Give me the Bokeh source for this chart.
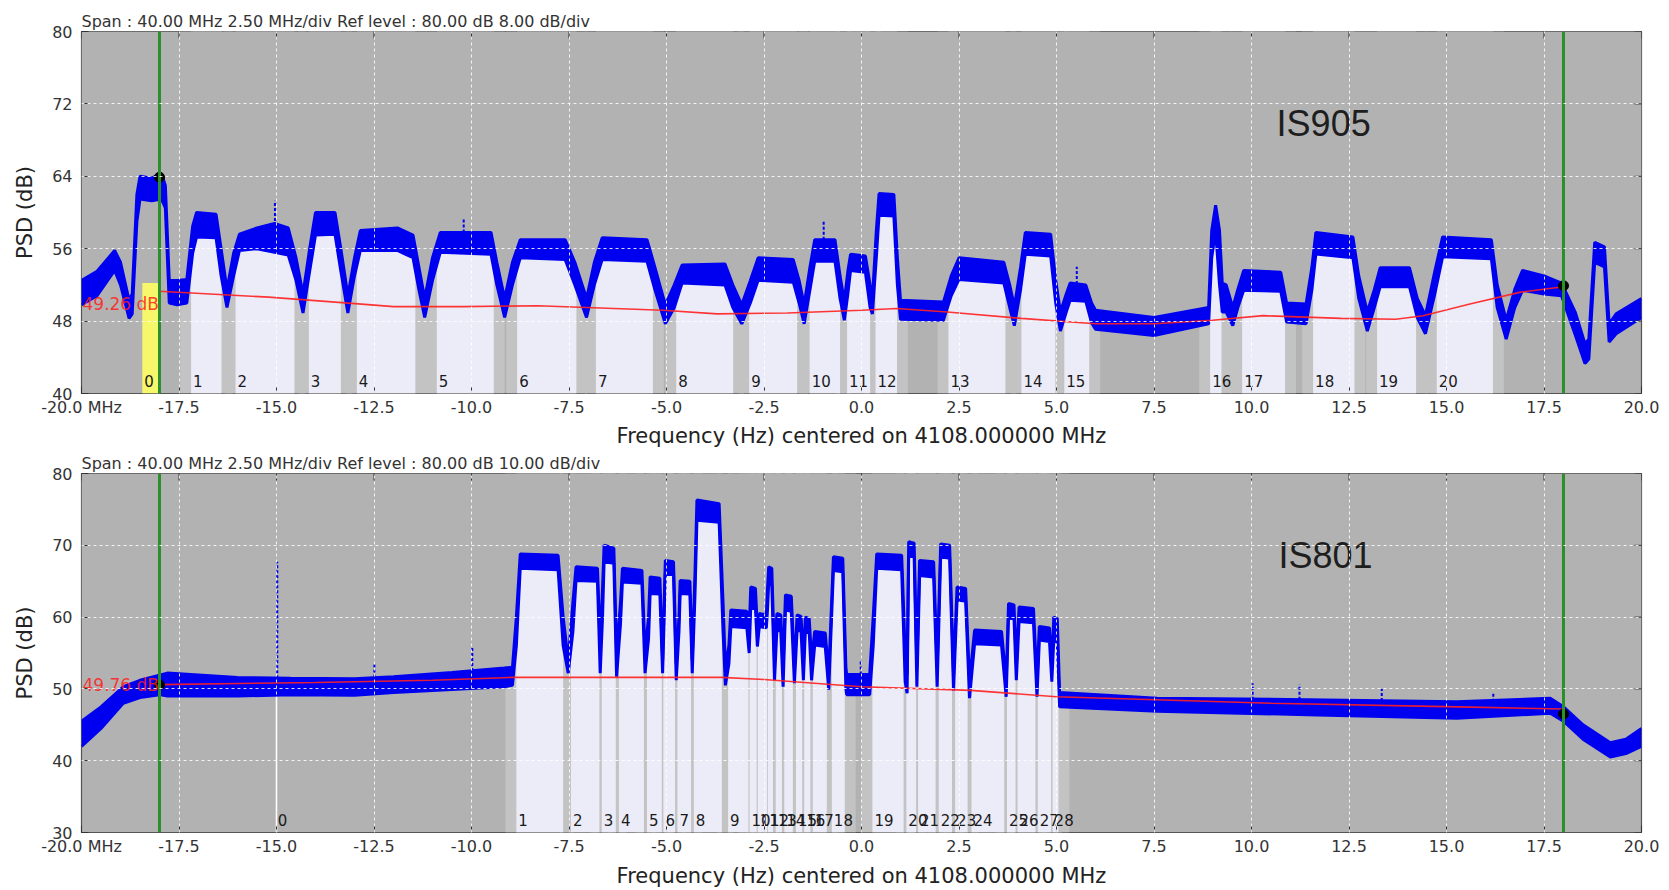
import math
from bokeh.plotting import figure
from bokeh.models import Range1d, FixedTicker, Span
from bokeh.layouts import column
from bokeh.embed import file_html
from bokeh.resources import INLINE
from bokeh.core.properties import value

# ---------------- shared axis data ----------------
X_TICKS = [-20.0, -17.5, -15.0, -12.5, -10.0, -7.5, -5.0, -2.5, 0.0, 2.5, 5.0, 7.5, 10.0, 12.5, 15.0, 17.5, 20.0]
X_LABELS = ["-20.0 MHz", "-17.5", "-15.0", "-12.5", "-10.0", "-7.5", "-5.0", "-2.5", "0.0", "2.5",
            "5.0", "7.5", "10.0", "12.5", "15.0", "17.5", "20.0"]
X_TITLE = "Frequency (Hz) centered on 4108.000000 MHz"
Y_TITLE = "PSD (dB)"

# ---------------- top panel (IS905) ----------------
TOP_TITLE = "Span : 40.00 MHz 2.50 MHz/div Ref level : 80.00 dB 8.00 dB/div"
TOP_Y_TICKS = [40, 48, 56, 64, 72, 80]
TOP_FREQ = [-20.0, -19.6, -19.15, -19.0, -18.78, -18.70, -18.58, -18.50, -18.20, -17.95, -17.85, -17.75,
            -17.55, -17.30, -17.15, -17.05, -16.55, -16.42, -16.27, -16.10, -15.95, -15.50, -15.05, -14.70,
            -14.50, -14.32, -14.15, -14.00, -13.50, -13.35, -13.17, -13.00, -12.85, -11.90, -11.50, -11.35,
            -11.20, -11.00, -10.80, -9.50, -9.35, -9.15, -8.95, -8.75, -7.60, -7.35, -7.05, -6.85, -6.65,
            -5.50, -5.30, -5.03, -4.80, -4.60, -3.50, -3.30, -3.07, -2.85, -2.65, -1.75, -1.60, -1.47,
            -1.32, -1.20, -0.68, -0.55, -0.44, -0.35, -0.28, 0.10, 0.22, 0.28, 0.38, 0.45, 0.83, 0.92,
            1.00, 2.10, 2.30, 2.50, 3.65, 3.80, 3.92, 4.08, 4.20, 4.85, 4.98, 5.10, 5.25, 5.35, 5.75,
            5.90, 6.00, 7.50, 8.90, 8.98, 9.08, 9.18, 9.25, 9.35, 9.52, 9.65, 9.80, 10.75, 10.90, 11.40,
            11.55, 11.65, 12.60, 12.75, 12.97, 13.15, 13.30, 14.05, 14.25, 14.46, 14.70, 14.90, 16.15,
            16.30, 16.53, 16.75, 16.95, 17.50, 17.95, 18.30, 18.55, 18.65, 18.80, 19.05, 19.17, 19.35, 20.00]
TOP_UPPER = [52.5, 53.5, 55.8, 54.5, 50.3, 51.0, 62.0, 64.0, 63.8, 64.3, 63.0, 52.5,
             52.5, 52.6, 58.5, 60.0, 59.8, 56.0, 51.5, 55.5, 57.6, 58.3, 58.8, 58.3,
             55.0, 51.0, 56.0, 60.0, 60.0, 56.0, 50.8, 55.0, 58.0, 58.3, 57.5, 54.0,
             50.5, 55.0, 57.8, 57.8, 54.5, 50.5, 54.5, 57.0, 57.0, 54.5, 50.5, 54.5, 57.2,
             57.0, 54.0, 49.8, 52.0, 54.2, 54.3, 52.0, 49.8, 52.5, 55.0, 54.8, 52.5, 49.8,
             54.0, 57.0, 57.0, 53.0, 50.2, 53.5, 55.4, 55.2, 52.0, 50.5, 58.0, 62.1, 62.0, 55.0,
             50.3, 50.1, 53.0, 55.0, 54.5, 52.0, 49.6, 54.0, 57.8, 57.6, 52.5, 49.0, 51.0, 52.2, 52.0,
             50.0, 49.2, 48.4, 49.5, 58.0, 60.8, 58.0, 52.2, 52.0, 49.5, 51.5, 53.6, 53.4, 50.0, 49.9,
             54.0, 57.8, 57.3, 53.0, 49.0, 51.5, 53.9, 53.9, 50.5, 48.6, 53.5, 57.3, 57.0,
             52.0, 48.1, 51.5, 53.6, 53.0, 52.2, 49.0, 45.5, 46.0, 56.7, 56.2, 47.7, 48.8, 50.5]
TOP_LOWER = [49.8, 50.8, 53.6, 52.0, 48.3, 48.8, 59.0, 61.5, 61.3, 61.5, 60.5, 50.0,
             49.8, 50.0, 55.5, 57.3, 57.2, 53.0, 49.5, 53.0, 55.8, 56.0, 55.6, 55.3,
             52.5, 48.9, 53.5, 57.5, 57.6, 53.5, 48.9, 53.0, 55.8, 55.8, 55.0, 51.5,
             48.4, 52.5, 55.6, 55.4, 52.0, 48.4, 52.0, 55.0, 54.8, 52.0, 48.4, 52.0, 54.8,
             54.6, 51.5, 47.7, 49.5, 52.2, 52.0, 49.5, 47.7, 50.0, 52.5, 52.3, 50.0, 47.7,
             51.5, 54.6, 54.6, 50.5, 48.1, 51.0, 53.6, 53.4, 49.5, 48.8, 55.0, 59.7, 59.6, 52.0,
             48.2, 48.1, 50.8, 52.6, 52.2, 49.5, 47.5, 51.5, 55.4, 55.2, 50.0, 46.9, 49.0, 50.3, 50.2,
             47.8, 47.1, 46.4, 47.7, 55.0, 58.0, 52.0, 49.0, 49.0, 47.5, 49.5, 51.4, 51.3, 47.9, 47.7,
             51.5, 55.4, 55.0, 50.5, 46.9, 49.5, 51.8, 51.8, 48.4, 46.6, 51.0, 55.1, 54.9,
             49.5, 46.0, 49.5, 51.4, 51.0, 50.8, 46.5, 43.3, 43.8, 54.5, 54.0, 45.7, 46.6, 48.4]
TOP_FLOOR_FREQ = [-18.0, -15.2, -12.9, -12.0, -10.2, -8.3, -5.1, -3.7, -1.9, 0.0, 0.9, 2.2,
                  4.1, 6.0, 7.5, 9.0, 10.3, 12.3, 13.7, 14.4, 15.6, 16.9, 18.0]
TOP_FLOOR_DB = [51.3, 50.65, 49.9, 49.6, 49.6, 49.7, 49.2, 48.8, 48.9, 49.2, 49.4, 49.0,
                48.3, 47.7, 47.7, 48.1, 48.6, 48.3, 48.2, 48.6, 49.9, 51.2, 51.8]
TOP_CH_LABELS = ["0", "1", "2", "3", "4", "5", "6", "7", "8", "9", "10", "11", "12", "13", "14",
                 "15", "16", "17", "18", "19", "20"]
TOP_CH_START = [-18.44, -17.19, -16.05, -14.17, -12.94, -10.89, -8.83, -6.81, -4.75, -2.88, -1.33,
                -0.37, 0.36, 2.23, 4.10, 5.20, 8.94, 9.76, 11.58, 13.22, 14.75]
TOP_CH_END = [-18.01, -16.41, -14.54, -13.35, -11.44, -9.43, -7.31, -5.35, -3.29, -1.65, -0.55,
              0.22, 0.91, 3.69, 4.97, 5.84, 9.23, 10.86, 12.64, 14.22, 16.19]
TOP_CH0_LEVEL = 52.2
TOP_SPIKE_FREQ = [-15.04, -10.2, -0.97, 5.52]
TOP_SPIKE_BASE = [58.5, 57.8, 57.0, 52.1]
TOP_SPIKE_PEAK = [61.3, 59.3, 59.1, 54.0]
TOP_MARK_FREQ = [-18.0, 18.0]
TOP_MARK_DB = [63.9, 51.9]
TOP_LEVEL_TEXT = "49.26 dB"
TOP_LEVEL_DB = 49.9
TOP_NAME = "IS905"
TOP_NAME_FREQ = 11.85
TOP_NAME_DB = 69.8

# ---------------- bottom panel (IS801) ----------------
BOT_TITLE = "Span : 40.00 MHz 2.50 MHz/div Ref level : 80.00 dB 10.00 dB/div"
BOT_Y_TICKS = [30, 40, 50, 60, 70, 80]
BOT_FREQ = [-20.0, -19.5, -18.93, -18.5, -18.0, -17.8, -16.0, -14.64, -13.0, -12.0, -10.5, -9.16,
            -8.95, -8.85, -8.75, -7.78, -7.65, -7.52, -7.40, -7.32, -6.77, -6.70, -6.64, -6.60,
            -6.35, -6.28, -6.18, -6.13, -5.63, -5.55, -5.46, -5.42, -5.17, -5.10, -5.06, -5.03,
            -4.82, -4.75, -4.68, -4.65, -4.40, -4.34, -4.27, -4.22, -3.65, -3.55, -3.49, -3.40,
            -3.35, -2.94, -2.88, -2.84, -2.72, -2.67, -2.62, -2.44, -2.41, -2.38, -2.30, -2.23,
            -2.17, -2.07, -2.01, -1.95, -1.80, -1.72, -1.65, -1.55, -1.49, -1.44, -1.34, -1.28,
            -1.20, -0.93, -0.84, -0.72, -0.48, -0.40, -0.38, 0.21, 0.30, 0.39, 1.03, 1.12, 1.17,
            1.21, 1.35, 1.42, 1.49, 1.85, 1.94, 2.03, 2.26, 2.36, 2.45, 2.67, 2.77, 2.90, 3.59,
            3.71, 3.77, 3.91, 3.97, 4.04, 4.41, 4.50, 4.56, 4.82, 4.88, 4.93, 5.02, 5.08, 7.58,
            11.42, 15.26, 17.66, 18.0, 18.5, 19.2, 19.6, 20.0]
BOT_UPPER = [45.5, 47.5, 50.3, 51.2, 51.9, 52.2, 51.6, 51.5, 51.4, 51.7, 52.3, 52.9,
             53.0, 60.0, 68.8, 68.6, 60.0, 54.0, 62.0, 67.0, 66.8, 56.0, 64.0, 70.0,
             69.6, 55.0, 62.0, 66.8, 66.5, 55.0, 60.0, 65.6, 65.4, 54.0, 62.0, 67.9,
             67.7, 53.5, 60.0, 65.1, 65.0, 54.0, 66.0, 76.3, 75.8, 62.0, 53.0, 56.0,
             61.0, 60.8, 58.0, 64.2, 64.0, 58.5, 60.5, 60.3, 64.0, 67.0, 66.8, 54.0,
             60.5, 60.3, 53.0, 63.1, 62.9, 53.0, 60.3, 60.1, 54.0, 60.0, 59.8, 54.0,
             58.0, 57.8, 52.0, 68.4, 68.2, 53.0, 52.0, 52.0, 60.0, 68.8, 68.6, 55.0, 52.0,
             70.5, 70.3, 53.0, 67.9, 67.7, 53.0, 70.2, 70.0, 52.0, 64.2, 64.0, 51.0, 58.2, 58.0,
             51.0, 61.9, 61.7, 53.5, 61.4, 61.2, 51.0, 58.7, 58.5, 53.0, 60.0, 59.8, 49.5, 48.7,
             48.5, 48.2, 48.7, 47.5, 45.0, 42.5, 43.0, 44.5]
BOT_LOWER = [42.0, 44.5, 48.0, 48.8, 49.2, 49.0, 49.0, 49.2, 49.1, 49.5, 49.9, 50.3,
             50.5, 56.0, 66.8, 66.6, 56.0, 52.2, 58.0, 65.1, 65.0, 52.2, 60.0, 67.7,
             67.5, 51.7, 59.0, 64.9, 64.7, 52.2, 57.0, 63.3, 63.2, 52.2, 60.0, 66.1,
             65.9, 51.2, 58.0, 63.3, 63.2, 52.2, 63.0, 73.5, 73.2, 58.0, 50.5, 53.5,
             58.7, 58.5, 55.0, 61.4, 61.2, 55.9, 58.7, 58.5, 61.0, 64.7, 64.5, 51.2,
             58.2, 58.0, 50.3, 61.0, 60.8, 50.8, 58.2, 58.0, 51.2, 58.0, 57.8, 51.2,
             56.1, 55.9, 49.9, 66.5, 66.3, 50.0, 49.2, 49.2, 56.0, 66.8, 66.6, 51.0, 49.4,
             68.6, 68.4, 50.3, 65.8, 65.6, 50.3, 68.4, 68.2, 49.8, 62.4, 62.2, 48.7, 56.3, 56.1,
             48.9, 60.0, 59.8, 51.2, 59.4, 59.2, 48.9, 56.8, 56.6, 51.0, 56.8, 56.6, 47.5, 46.9,
             46.4, 45.9, 46.6, 45.5, 43.0, 40.5, 41.0, 42.0]
BOT_FLOOR_FREQ = [-18.0, -14.0, -11.0, -9.0, -3.6, -2.5, 0.0, 2.8, 5.0, 10.5, 15.3, 18.0]
BOT_FLOOR_DB = [50.6, 50.9, 51.2, 51.6, 51.6, 51.3, 50.3, 49.8, 48.9, 48.0, 47.5, 47.2]
BOT_CH_LABELS = ["0", "1", "2", "3", "4", "5", "6", "7", "8", "9", "10", "11", "12", "13", "14",
                 "15", "16", "17", "18", "19", "20", "21", "22", "23", "24", "25", "26", "27", "28"]
BOT_CH_START = [-15.02, -8.85, -7.45, -6.66, -6.22, -5.50, -5.08, -4.72, -4.30, -3.42, -2.87, -2.66,
                -2.40, -2.20, -1.98, -1.68, -1.47, -1.25, -0.76, 0.28, 1.15, 1.45, 1.98, 2.40,
                2.82, 3.73, 4.00, 4.52, 4.90]
BOT_CH_END = [-14.98, -7.65, -6.72, -6.30, -5.58, -5.12, -4.78, -4.37, -3.58, -2.90, -2.69, -2.42,
              -2.27, -2.04, -1.76, -1.52, -1.31, -0.89, -0.43, 1.08, 1.40, 1.90, 2.32, 2.72,
              3.66, 3.95, 4.46, 4.86, 5.05]
BOT_SPIKE_FREQ = [-14.98, -12.49, -9.98, -0.02, 10.03, 11.23, 13.34, 16.2]
BOT_SPIKE_BASE = [51.5, 51.6, 52.5, 52.0, 48.5, 48.5, 48.3, 48.2]
BOT_SPIKE_PEAK = [67.7, 53.6, 55.9, 53.8, 50.8, 50.6, 50.0, 49.4]
BOT_MARK_FREQ = [-18.0, 18.0]
BOT_MARK_DB = [50.55, 46.5]
BOT_LEVEL_TEXT = "49.76 dB"
BOT_LEVEL_DB = 50.6
BOT_NAME = "IS801"
BOT_NAME_FREQ = 11.9
BOT_NAME_DB = 68.6

# ---------------- styling ----------------
BG = "#b2b2b2"
STRIP = "#c3c3c3"
LAV = "#ececf8"
BLUE = "#0000f0"
RED = "#ff2020"
GREEN = "#2b8f2b"
YELLOW = "#f7f76c"
GUARD = 0.28
FONT = "DejaVu Sans"
TICK_COLOR = "#333333"


def panel(title, yt, freq, up, lo, fl_x, fl_y, cs, ce, cl, first_color, first_top,
          sx, sb, sp, mx, my, lvl_txt, lvl_y, name, nx, ny,
          height, bl, br, bt, bb, xl_standoff):
    ymin, ymax = yt[0], yt[-1]
    xmin, xmax = X_TICKS[0], X_TICKS[-1]
    p = figure(width=1665, height=height, x_range=Range1d(xmin, xmax), y_range=Range1d(ymin, ymax),
               output_backend="svg", toolbar_location=None,
               min_border_left=bl, min_border_right=br, min_border_top=bt, min_border_bottom=bb,
               background_fill_color=BG, border_fill_color="white",
               outline_line_color="#555555", outline_line_width=1.2)
    p.title.text = title
    p.title.align = "left"
    p.title.text_font = FONT
    p.title.text_font_size = "16px"
    p.title.text_font_style = "normal"
    p.title.text_color = "#333333"
    p.title.standoff = 1

    xa = p.xaxis[0]
    xa.ticker = FixedTicker(ticks=X_TICKS)
    xa.major_label_overrides = dict(zip(X_TICKS, X_LABELS))
    ya = p.yaxis[0]
    ya.ticker = FixedTicker(ticks=yt)
    for ax in (xa, ya):
        ax.major_tick_in = 7
        ax.major_tick_out = 0
        ax.minor_tick_line_color = None
        ax.axis_line_color = None
        ax.major_tick_line_color = TICK_COLOR
        ax.major_label_text_font = FONT
        ax.major_label_text_font_size = "16px"
        ax.major_label_text_color = "#333333"
        ax.axis_label_text_font = FONT
        ax.axis_label_text_font_size = "21px"
        ax.axis_label_text_font_style = "normal"
        ax.axis_label_text_color = "#222222"
    xa.axis_label = X_TITLE
    xa.major_label_standoff = 4
    xa.axis_label_standoff = xl_standoff
    ya.axis_label = Y_TITLE
    ya.major_label_standoff = 9
    ya.axis_label_standoff = 12

    p.xgrid.ticker = FixedTicker(ticks=X_TICKS)
    p.ygrid.ticker = FixedTicker(ticks=yt)
    p.grid.grid_line_color = "white"
    p.grid.grid_line_dash = "3 3"
    p.grid.grid_line_alpha = 0.85
    p.grid.level = "overlay"

    n = len(cs)
    # guard strips and channel fills (masked above the trace later)
    p.quad(left=[a - GUARD for a in cs[1:]], right=[b + GUARD for b in ce[1:]],
           bottom=ymin, top=ymax, fill_color=STRIP, line_color=None)
    p.quad(left=cs[1:], right=ce[1:], bottom=ymin, top=ymax, fill_color=LAV, line_color=None)
    p.quad(left=cs[:1], right=ce[:1], bottom=ymin, top=[first_top], fill_color=first_color,
           line_color=None)

    # mask above the spectrum
    p.varea(x=freq, y1=up, y2=[ymax] * len(freq), fill_color=BG)
    # spectrum band
    p.varea(x=freq, y1=lo, y2=up, fill_color=BLUE)
    p.line(freq, up, line_color=BLUE, line_width=3)
    p.line(freq, lo, line_color=BLUE, line_width=3)
    p.segment(x0=sx, y0=sb, x1=sx, y1=sp, line_color=BLUE, line_width=2, line_dash="3 2")

    # noise floor
    p.line(fl_x, fl_y, line_color=RED, line_width=1.6, line_alpha=0.9)

    # inward tick marks on the top and right frame edges (half of each dash is clipped away)
    p.scatter(x=X_TICKS, y=[ymax] * len(X_TICKS), marker="dash", size=14, angle=math.pi / 2,
              line_color=TICK_COLOR, line_width=1)
    p.scatter(x=[xmax] * len(yt), y=yt, marker="dash", size=14, angle=0,
              line_color=TICK_COLOR, line_width=1)

    # channel numbers
    p.text(x=cs, y=[ymin] * n, text=cl, text_font=value(FONT), text_font_size=value("15px"),
           text_align="left", text_baseline="bottom", x_offset=2, y_offset=-7, text_color="#1a1a1a")

    for m in mx:
        p.add_layout(Span(location=m, dimension="height", line_color=GREEN, line_width=3))
    p.scatter(mx, my, size=10, color="black")

    p.text(x=[xmin], y=[lvl_y], text=[lvl_txt], text_font=value(FONT),
           text_font_size=value("17px"), text_align="left", text_baseline="middle",
           x_offset=1, text_color=RED, text_alpha=0.85)
    p.text(x=[nx], y=[ny], text=[name], text_font=value("Liberation Sans"),
           text_font_size=value("36px"), text_align="center", text_baseline="middle",
           text_color="#1e1e1e")
    return p


p1 = panel(TOP_TITLE, TOP_Y_TICKS, TOP_FREQ, TOP_UPPER, TOP_LOWER, TOP_FLOOR_FREQ, TOP_FLOOR_DB,
           TOP_CH_START, TOP_CH_END, TOP_CH_LABELS, YELLOW, TOP_CH0_LEVEL,
           TOP_SPIKE_FREQ, TOP_SPIKE_BASE, TOP_SPIKE_PEAK, TOP_MARK_FREQ, TOP_MARK_DB,
           TOP_LEVEL_TEXT, TOP_LEVEL_DB, TOP_NAME, TOP_NAME_FREQ, TOP_NAME_DB,
           height=450, bl=81, br=19, bt=31, bb=57, xl_standoff=4)
p2 = panel(BOT_TITLE, BOT_Y_TICKS, BOT_FREQ, BOT_UPPER, BOT_LOWER, BOT_FLOOR_FREQ, BOT_FLOOR_DB,
           BOT_CH_START, BOT_CH_END, BOT_CH_LABELS, "white", BOT_Y_TICKS[-1],
           BOT_SPIKE_FREQ, BOT_SPIKE_BASE, BOT_SPIKE_PEAK, BOT_MARK_FREQ, BOT_MARK_DB,
           BOT_LEVEL_TEXT, BOT_LEVEL_DB, BOT_NAME, BOT_NAME_FREQ, BOT_NAME_DB,
           height=440, bl=76, br=24, bt=23, bb=57, xl_standoff=5)

layout = column(p1, p2)
open("out.html", "w").write(file_html(layout, INLINE))
